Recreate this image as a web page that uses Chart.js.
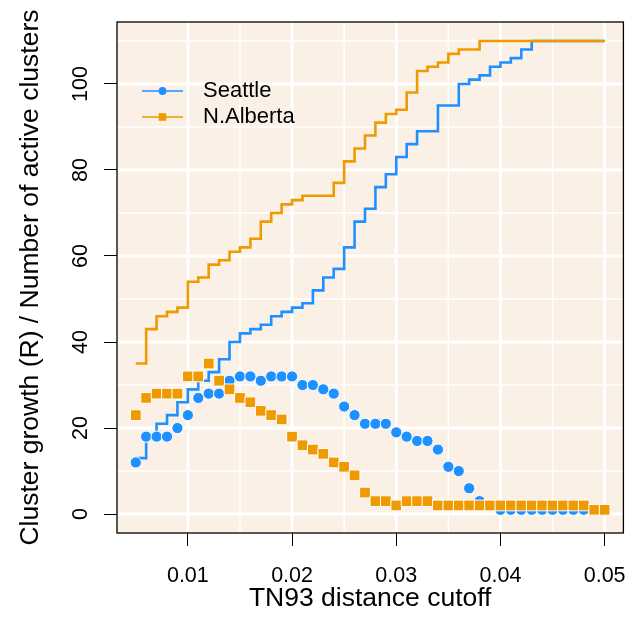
<!DOCTYPE html>
<html>
<head>
<meta charset="utf-8">
<script src="https://cdn.jsdelivr.net/npm/chart.js@4"></script>
<style>
  html, body { margin: 0; padding: 0; background: #fff; }
  #c { display: block; }
</style>
</head>
<body>
<canvas id="c" width="632" height="636"></canvas>
<script>
// TN93 distance cutoffs
var cutoffs = [0.005, 0.006, 0.007, 0.008, 0.009, 0.010, 0.011, 0.012, 0.013, 0.014,
               0.015, 0.016, 0.017, 0.018, 0.019, 0.020, 0.021, 0.022, 0.023, 0.024,
               0.025, 0.026, 0.027, 0.028, 0.029, 0.030, 0.031, 0.032, 0.033, 0.034,
               0.035, 0.036, 0.037, 0.038, 0.039, 0.040, 0.041, 0.042, 0.043, 0.044,
               0.045, 0.046, 0.047, 0.048, 0.049, 0.050];

// number of active clusters (step lines)
var seattleClusters = [13, 18, 21, 23, 26, 29, 31, 33, 36, 40,
                       42, 43, 44, 46, 47, 48, 49, 52, 55, 57,
                       62, 68, 71, 76, 79, 83, 86, 89, 89, 95,
                       95, 100, 101, 102, 104, 105, 106, 108, 110, 110,
                       110, 110, 110, 110, 110, 110];
var albertaClusters = [35, 43, 46, 47, 48, 54, 55, 58, 59, 61,
                       62, 64, 68, 70, 72, 73, 74, 74, 74, 77,
                       82, 85, 88, 91, 93, 94, 98, 103, 104, 105,
                       107, 108, 108, 110, 110, 110, 110, 110, 110, 110,
                       110, 110, 110, 110, 110, 110];

// cluster growth R (points)
var seattleR = [12, 18, 18, 18, 20, 23, 27, 28, 28, 31,
                32, 32, 31, 32, 32, 32, 30, 30, 29, 28,
                25, 23, 21, 21, 21, 19, 18, 17, 17, 15,
                11, 10, 6, 3, 2, 1, 1, 1, 1, 1,
                1, 1, 1, 1, 1, 1];
var albertaR = [23, 27, 28, 28, 28, 32, 32, 35, 31, 29,
                27, 26, 24, 23, 22, 18, 16, 15, 14, 12,
                11, 9, 5, 3, 3, 2, 3, 3, 3, 2,
                2, 2, 2, 2, 2, 2, 2, 2, 2, 2,
                2, 2, 2, 2, 1, 1];

var xTicks = [0.01, 0.02, 0.03, 0.04, 0.05];
var xMinor = [0.015, 0.025, 0.035, 0.045];
var yTicks = [0, 20, 40, 60, 80, 100];
var yMinor = [10, 30, 50, 70, 90, 110];

var blue = "#1E90FF";
var orange = "#EE9A00";
var FONT = "'Liberation Sans', Arial, sans-serif";

function pts(arr) {
  return cutoffs.map(function (x, i) { return { x: x, y: arr[i] }; });
}

function noPad(s) {
  s.paddingLeft = 0; s.paddingRight = 0; s.paddingTop = 0; s.paddingBottom = 0;
}

// panel background, white grid, box and legend
var panel = {
  id: "panel",
  beforeDatasetsDraw: function (chart) {
    var ctx = chart.ctx, a = chart.chartArea;
    var xs = chart.scales.x, ys = chart.scales.y;
    ctx.save();
    ctx.fillStyle = "#FAF0E6";
    ctx.fillRect(a.left, a.top, a.right - a.left, a.bottom - a.top);
    ctx.strokeStyle = "#fff";
    function vline(v, w) {
      var px = xs.getPixelForValue(v);
      ctx.lineWidth = w;
      ctx.beginPath(); ctx.moveTo(px, a.top); ctx.lineTo(px, a.bottom); ctx.stroke();
    }
    function hline(v, w) {
      var py = ys.getPixelForValue(v);
      ctx.lineWidth = w;
      ctx.beginPath(); ctx.moveTo(a.left, py); ctx.lineTo(a.right, py); ctx.stroke();
    }
    xMinor.forEach(function (v) { vline(v, 1.5); });
    yMinor.forEach(function (v) { hline(v, 1.5); });
    xTicks.forEach(function (v) { vline(v, 3); });
    yTicks.forEach(function (v) { hline(v, 3); });
    ctx.restore();
  },
  afterDraw: function (chart) {
    var ctx = chart.ctx, a = chart.chartArea;
    ctx.save();
    ctx.strokeStyle = "#000";
    ctx.lineWidth = 1.3;
    ctx.strokeRect(a.left, a.top, a.right - a.left, a.bottom - a.top);

    // legend
    var items = [
      { label: "Seattle", color: blue, shape: "circle", y: 91 },
      { label: "N.Alberta", color: orange, shape: "square", y: 117 }
    ];
    items.forEach(function (it) {
      ctx.strokeStyle = it.color;
      ctx.lineWidth = 1.5;
      ctx.beginPath(); ctx.moveTo(142, it.y); ctx.lineTo(183, it.y); ctx.stroke();
      ctx.fillStyle = it.color;
      if (it.shape === "circle") {
        ctx.beginPath(); ctx.arc(162.5, it.y, 3.9, 0, Math.PI * 2); ctx.fill();
      } else {
        ctx.fillRect(162.5 - 3.8, it.y - 3.8, 7.6, 7.6);
      }
      ctx.fillStyle = "#000";
      ctx.font = "22px " + FONT;
      ctx.textBaseline = "middle";
      ctx.textAlign = "left";
      ctx.fillText(it.label, 203, it.y);
    });
    ctx.restore();
  }
};

Chart.defaults.color = "#000";
Chart.defaults.font.family = FONT;

var chart = new Chart(document.getElementById("c").getContext("2d"), {
  type: "scatter",
  data: {
    datasets: [
      {
        label: "Seattle clusters",
        data: pts(seattleClusters),
        showLine: true,
        stepped: true,
        borderColor: blue,
        borderWidth: 2.6,
        pointRadius: 0,
        order: 4
      },
      {
        label: "N.Alberta clusters",
        data: pts(albertaClusters),
        showLine: true,
        stepped: true,
        borderColor: orange,
        borderWidth: 2.6,
        pointRadius: 0,
        order: 3
      },
      {
        label: "Seattle",
        data: pts(seattleR),
        pointStyle: "circle",
        pointRadius: 5.6,
        backgroundColor: blue,
        borderColor: "#fff",
        borderWidth: 1,
        order: 2
      },
      {
        label: "N.Alberta",
        data: pts(albertaR),
        pointStyle: "rect",
        pointRadius: 7.6,
        backgroundColor: orange,
        borderColor: "#fff",
        borderWidth: 1,
        order: 1
      }
    ]
  },
  options: {
    responsive: false,
    animation: false,
    devicePixelRatio: 1,
    layout: { padding: { top: 22, right: 4, left: 0, bottom: 0 } },
    plugins: { legend: { display: false }, tooltip: { enabled: false } },
    scales: {
      x: {
        type: "linear",
        min: 0.0032,
        max: 0.0518,
        afterBuildTicks: function (s) { s.ticks = xTicks.map(function (v) { return { value: v }; }); },
        afterFit: function (s) { s.height = 103; noPad(s); },
        ticks: {
          autoSkip: false,
          maxRotation: 0,
          padding: 17,
          font: { size: 21.5 },
          callback: function (v) { return v.toFixed(2); }
        },
        grid: { display: true, drawOnChartArea: false, drawTicks: true, tickLength: 13, tickColor: "#000", lineWidth: 1 },
        border: { display: false },
        title: { display: true, text: "TN93 distance cutoff", font: { size: 26.5 }, padding: { bottom: 21, top: 0 } }
      },
      y: {
        type: "linear",
        min: -4.4,
        max: 114.4,
        afterBuildTicks: function (s) { s.ticks = yTicks.map(function (v) { return { value: v }; }); },
        afterFit: function (s) { s.width = 117; noPad(s); },
        ticks: {
          minRotation: 90,
          maxRotation: 90,
          crossAlign: "center",
          padding: 5,
          font: { size: 21.5 }
        },
        grid: { display: true, drawOnChartArea: false, drawTicks: true, tickLength: 13, tickColor: "#000", lineWidth: 1 },
        border: { display: false },
        title: { display: true, text: "Cluster growth (R) / Number of active clusters", font: { size: 26.5 }, padding: { top: 15, bottom: 0 } }
      }
    }
  },
  plugins: [panel]
});
</script>
</body>
</html>
